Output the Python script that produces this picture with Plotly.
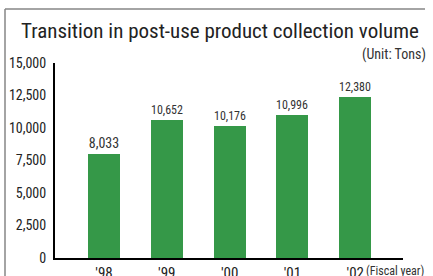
import plotly.graph_objects as go

years = ["'98", "'99", "'00", "'01", "'02"]
volumes = [8033, 10652, 10176, 10996, 12380]
y_ticks = [0, 2500, 5000, 7500, 10000, 12500, 15000]
y_tick_labels = ["0", "2,500", "5,000", "7,500", "10,000", "12,500", "15,000"]

FONT = "Roboto Condensed, Liberation Sans Narrow, sans-serif"
W, H = 433, 276
L, R, T, B = 55, 30, 63, 18
pw, ph = W - L - R, H - T - B

def px(x):
    return (x - L) / pw

def py(y):
    return (H - B - y) / ph

fig = go.Figure(go.Bar(
    x=list(range(len(years))), y=volumes,
    marker=dict(color="#359848", line=dict(width=0)),
    width=0.51,
    text=[f"{v:,}" for v in volumes], textposition="outside",
    textfont=dict(family=FONT, size=14, color="#333333"),
    cliponaxis=False,
))

fig.update_layout(
    width=W, height=H, margin=dict(l=L, r=R, t=T, b=B, pad=0),
    paper_bgcolor="white", plot_bgcolor="white",
    showlegend=False, bargap=0,
    font=dict(family=FONT),
    xaxis=dict(range=[-0.78, 4.76], tickvals=list(range(len(years))), ticktext=years,
               automargin=False,
               showgrid=False, zeroline=False, showline=True, linecolor="black", linewidth=2,
               ticks="", tickfont=dict(family=FONT, size=15, color="#222222")),
    yaxis=dict(range=[0, 15000], tickvals=y_ticks, ticktext=y_tick_labels,
               automargin=False,
               showgrid=False, zeroline=False, showline=True, linecolor="black", linewidth=2,
               ticks="", ticklabelstandoff=4, tickfont=dict(family=FONT, size=14, color="#222222")),
    shapes=[
        dict(type="line", xref="paper", yref="paper", x0=px(5), x1=px(425), y0=py(9), y1=py(9),
             line=dict(color="#868686", width=1.5)),
        dict(type="line", xref="paper", yref="paper", x0=px(5), x1=px(5), y0=py(9), y1=py(276),
             line=dict(color="#868686", width=1.5)),
    ],
    annotations=[
        dict(text="Transition in post-use product collection volume", xref="paper", yref="paper",
             x=px(220), y=py(31), xanchor="center", yanchor="middle", showarrow=False,
             font=dict(family=FONT, size=21, color="#222222")),
        dict(text="(Unit: Tons)", xref="paper", yref="paper",
             x=px(428), y=py(55), xanchor="right", yanchor="middle", showarrow=False,
             font=dict(family=FONT, size=14, color="#333333")),
        dict(text="(Fiscal year)", xref="paper", yref="paper",
             x=px(426), y=py(271), xanchor="right", yanchor="middle", showarrow=False,
             font=dict(family=FONT, size=12, color="#333333")),
    ],
)

fig.write_html("out.html", config={"displayModeBar": False},
               post_script="document.body.style.margin='0';document.body.style.overflow='hidden';")
